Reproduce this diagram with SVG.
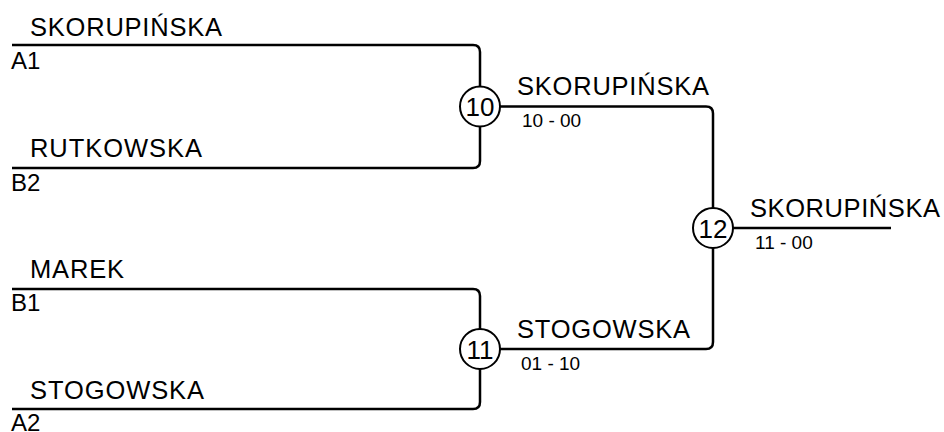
<svg xmlns="http://www.w3.org/2000/svg" width="944" height="432" viewBox="0 0 944 432">
  <style>
    .ln { fill: none; stroke: #000; stroke-width: 2.5; stroke-linecap: butt; }
    .nd { fill: #fff; stroke: #000; stroke-width: 2; }
    .nm { font-family: "Liberation Sans", Arial, sans-serif; font-size: 25.5px; fill: #000; }
    .sd { font-family: "Liberation Sans", Arial, sans-serif; font-size: 24px; fill: #000; }
    .sc { font-family: "Liberation Sans", Arial, sans-serif; font-size: 19px; fill: #000; }
    .num { font-family: "Liberation Sans", Arial, sans-serif; font-size: 26px; fill: #000; text-anchor: middle; }
  </style>
  <rect width="944" height="432" fill="#fff"/>
  <g id="connectors">
    <path class="ln" d="M12,45 H473 Q480,45 480,52 V161 Q480,168 473,168 H12"/>
    <path class="ln" d="M12,289 H473 Q480,289 480,296 V402 Q480,409 473,409 H12"/>
    <path class="ln" d="M480,106.5 H706 Q713,106.5 713,113.5 V342 Q713,349 706,349 H480"/>
    <path class="ln" d="M713,228 H891"/>
  </g>
  <g id="entry-a1">
    <text class="nm" x="30" y="36" textLength="192" lengthAdjust="spacing">SKORUPIŃSKA</text>
    <text class="sd" x="11" y="69">A1</text>
  </g>
  <g id="entry-b2">
    <text class="nm" x="30" y="157" textLength="172" lengthAdjust="spacing">RUTKOWSKA</text>
    <text class="sd" x="11" y="191">B2</text>
  </g>
  <g id="entry-b1">
    <text class="nm" x="30" y="277.5" textLength="94" lengthAdjust="spacing">MAREK</text>
    <text class="sd" x="11" y="311">B1</text>
  </g>
  <g id="entry-a2">
    <text class="nm" x="30" y="399" textLength="174" lengthAdjust="spacing">STOGOWSKA</text>
    <text class="sd" x="11" y="431">A2</text>
  </g>
  <g id="match-10">
    <circle class="nd" cx="480" cy="106.5" r="20"/>
    <text class="num" x="480" y="116">10</text>
    <text class="nm" x="517" y="95" textLength="192" lengthAdjust="spacing">SKORUPIŃSKA</text>
    <text class="sc" x="522" y="127">10 - 00</text>
  </g>
  <g id="match-11">
    <circle class="nd" cx="480" cy="349" r="20"/>
    <text class="num" x="480" y="358.5">11</text>
    <text class="nm" x="517" y="338" textLength="173" lengthAdjust="spacing">STOGOWSKA</text>
    <text class="sc" x="521" y="370">01 - 10</text>
  </g>
  <g id="match-12">
    <circle class="nd" cx="713" cy="228" r="20"/>
    <text class="num" x="713" y="237.5">12</text>
    <text class="nm" x="750" y="217" textLength="190" lengthAdjust="spacing">SKORUPIŃSKA</text>
    <text class="sc" x="755" y="248.5">11 - 00</text>
  </g>
</svg>
